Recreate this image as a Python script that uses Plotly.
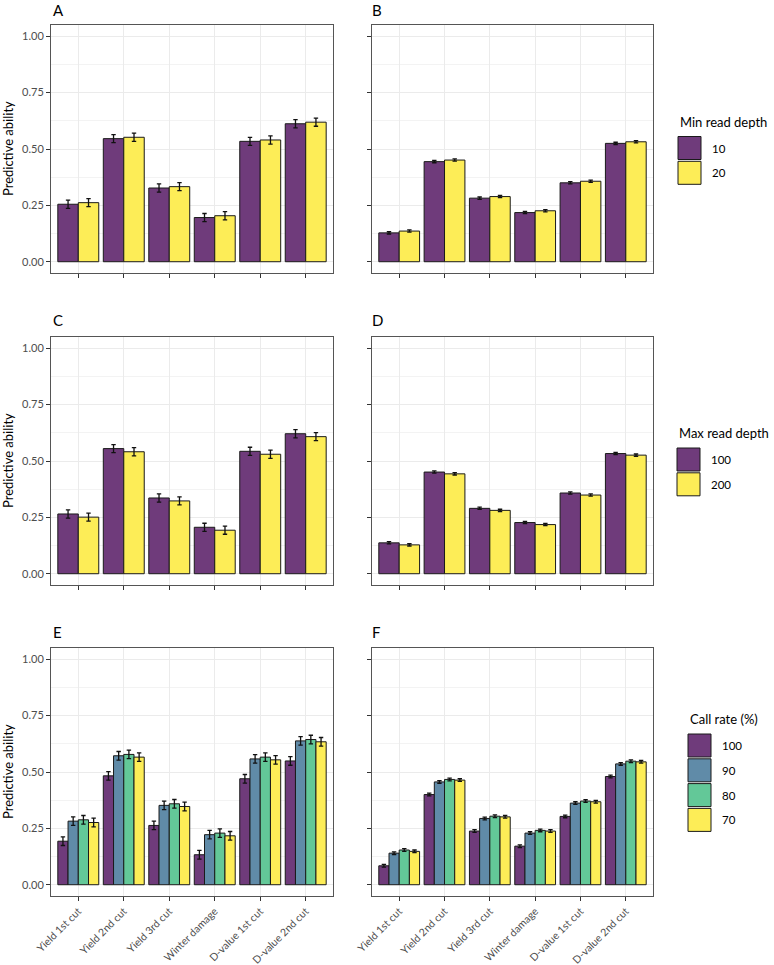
import plotly.graph_objects as go

# ---------------- data ----------------
traits = ["Yield 1st cut", "Yield 2nd cut", "Yield 3rd cut", "Winter damage",
          "D-value 1st cut", "D-value 2nd cut"]

# Panel A / B : Min read depth
min_depth_levels = ["10", "20"]
A_10 = [0.255, 0.546, 0.327, 0.196, 0.534, 0.612]
A_20 = [0.262, 0.552, 0.333, 0.204, 0.540, 0.619]
A_10_err = [0.018, 0.018, 0.018, 0.018, 0.018, 0.018]
A_20_err = [0.018, 0.018, 0.018, 0.018, 0.018, 0.018]
B_10 = [0.128, 0.444, 0.282, 0.218, 0.350, 0.525]
B_20 = [0.136, 0.451, 0.289, 0.226, 0.357, 0.532]
B_10_err = [0.005, 0.005, 0.005, 0.005, 0.005, 0.005]
B_20_err = [0.005, 0.005, 0.005, 0.005, 0.005, 0.005]

# Panel C / D : Max read depth
max_depth_levels = ["100", "200"]
C_100 = [0.265, 0.555, 0.336, 0.206, 0.543, 0.621]
C_200 = [0.251, 0.541, 0.323, 0.193, 0.530, 0.608]
C_100_err = [0.018, 0.018, 0.018, 0.018, 0.018, 0.018]
C_200_err = [0.018, 0.018, 0.018, 0.018, 0.018, 0.018]
D_100 = [0.137, 0.451, 0.290, 0.227, 0.358, 0.533]
D_200 = [0.128, 0.443, 0.281, 0.218, 0.349, 0.526]
D_100_err = [0.005, 0.005, 0.005, 0.005, 0.005, 0.005]
D_200_err = [0.005, 0.005, 0.005, 0.005, 0.005, 0.005]

# Panel E / F : Call rate (%)
call_rate_levels = ["100", "90", "80", "70"]
E_100 = [0.193, 0.483, 0.263, 0.133, 0.470, 0.549]
E_90 = [0.282, 0.572, 0.352, 0.222, 0.558, 0.638]
E_80 = [0.288, 0.578, 0.359, 0.229, 0.566, 0.644]
E_70 = [0.276, 0.566, 0.347, 0.217, 0.554, 0.634]
E_err = [0.019, 0.019, 0.019, 0.019, 0.019, 0.019]
F_100 = [0.084, 0.400, 0.238, 0.171, 0.303, 0.480]
F_90 = [0.140, 0.456, 0.294, 0.229, 0.362, 0.536]
F_80 = [0.154, 0.467, 0.304, 0.241, 0.371, 0.548]
F_70 = [0.148, 0.464, 0.301, 0.238, 0.368, 0.545]
F_err = [0.006, 0.006, 0.006, 0.006, 0.006, 0.006]

y_ticks = [0, 0.25, 0.5, 0.75, 1.0]
y_tick_labels = ["0.00", "0.25", "0.50", "0.75", "1.00"]

# ---------------- styles ----------------
W, H = 774, 965
FONT = "Lato, sans-serif"


def blend(hexc, a=0.77):
    r, g, b = int(hexc[1:3], 16), int(hexc[3:5], 16), int(hexc[5:7], 16)
    r, g, b = [round(c * a + 255 * (1 - a)) for c in (r, g, b)]
    return f"#{r:02X}{g:02X}{b:02X}"


pal2 = [blend("#440154"), blend("#FDE725")]
pal4 = [blend("#440154"), blend("#31688E"), blend("#35B779"), blend("#FDE725")]

# panel boxes in pixels: (left, right, top, bottom)
colx = [(51, 333), (372, 653)]
rowy = [(25, 273), (337, 585), (648, 896)]

fig = go.Figure()

panels = [
    (0, 0, [A_10, A_20], [A_10_err, A_20_err], pal2, min_depth_levels),
    (0, 1, [B_10, B_20], [B_10_err, B_20_err], pal2, min_depth_levels),
    (1, 0, [C_100, C_200], [C_100_err, C_200_err], pal2, max_depth_levels),
    (1, 1, [D_100, D_200], [D_100_err, D_200_err], pal2, max_depth_levels),
    (2, 0, [E_100, E_90, E_80, E_70], [E_err, E_err, E_err, E_err], pal4, call_rate_levels),
    (2, 1, [F_100, F_90, F_80, F_70], [F_err, F_err, F_err, F_err], pal4, call_rate_levels),
]

for i, (r, c, series, errs, pal, levels) in enumerate(panels):
    n = i + 1
    xa = "x" if n == 1 else f"x{n}"
    ya = "y" if n == 1 else f"y{n}"
    for vals, err, col, lev in zip(series, errs, pal, levels):
        fig.add_trace(go.Bar(
            x=traits, y=vals, name=lev, xaxis=xa, yaxis=ya,
            marker=dict(color=col, line=dict(color="#1a1a1a", width=1)),
            error_y=dict(type="data", array=err, color="#111111", thickness=1.3, width=2.2),
            showlegend=False,
        ))
    l, rr = colx[c]
    t, b = rowy[r]
    xkey = "xaxis" if n == 1 else f"xaxis{n}"
    ykey = "yaxis" if n == 1 else f"yaxis{n}"
    fig.layout[xkey] = dict(
        domain=[l / W, rr / W], anchor=ya, type="category", automargin=False,
        range=[-0.6, 5.6], showgrid=True, gridcolor="#EBEBEB", gridwidth=1,
        showline=True, mirror=True, linecolor="#555555", linewidth=1,
        ticks="outside", ticklen=4, tickwidth=1, tickcolor="#333333",
        showticklabels=(r == 2), tickangle=-45,
        tickfont=dict(family=FONT, size=10.5, color="#4D4D4D"),
        zeroline=False,
    )
    fig.layout[ykey] = dict(
        domain=[1 - b / H, 1 - t / H], anchor=xa, automargin=False,
        range=[-0.05, 1.05], tickvals=y_ticks, ticktext=y_tick_labels,
        showgrid=True, gridcolor="#EBEBEB", gridwidth=1,
        minor=dict(tickvals=[0.125, 0.375, 0.625, 0.875], showgrid=True,
                   gridcolor="#F3F3F3", gridwidth=0.6),
        showline=True, mirror=True, linecolor="#555555", linewidth=1,
        ticks="outside", ticklen=4, tickwidth=1, tickcolor="#333333",
        showticklabels=(c == 0),
        tickfont=dict(family=FONT, size=11, color="#4D4D4D"),
        zeroline=False,
    )

annotations = []
shapes = []

# panel letters
letters = ["A", "B", "C", "D", "E", "F"]
letter_pos = [(51, 10), (370, 10), (51, 320), (370, 320), (51, 632), (370, 632)]
for lt, (px, py) in zip(letters, letter_pos):
    annotations.append(dict(text=lt, x=px / W, y=1 - py / H, xref="paper", yref="paper",
                            xanchor="left", yanchor="middle", showarrow=False,
                            font=dict(family=FONT, size=15, color="black")))

# y axis titles
for (t, b) in rowy:
    annotations.append(dict(text="Predictive ability", x=8 / W, y=1 - ((t + b) / 2) / H,
                            xref="paper", yref="paper", xanchor="center", yanchor="middle",
                            textangle=-90, showarrow=False,
                            font=dict(family=FONT, size=13, color="black")))

# legends (drawn as keys)
legends = [
    ("Min read depth", min_depth_levels, pal2, 678, 122, 136.5),
    ("Max read depth", max_depth_levels, pal2, 677, 433, 448),
    ("Call rate (%)", call_rate_levels, pal4, 688, 719, 734),
]
key = 23
step = 24.8
for title, levels, pal, lx, ty, ky in legends:
    annotations.append(dict(text=title, x=lx / W, y=1 - ty / H, xref="paper", yref="paper",
                            xanchor="left", yanchor="middle", showarrow=False,
                            font=dict(family=FONT, size=13, color="black")))
    for j, (lev, col) in enumerate(zip(levels, pal)):
        y0 = ky + j * step
        shapes.append(dict(type="rect", xref="paper", yref="paper",
                           x0=lx / W, x1=(lx + key) / W,
                           y0=1 - (y0 + key) / H, y1=1 - y0 / H,
                           fillcolor=col, line=dict(color="#1a1a1a", width=1)))
        annotations.append(dict(text=lev, x=(lx + key + 9) / W, y=1 - (y0 + key / 2) / H,
                                xref="paper", yref="paper", xanchor="left", yanchor="middle",
                                showarrow=False,
                                font=dict(family=FONT, size=11.5, color="black")))

fig.update_layout(
    width=W, height=H, autosize=False,
    margin=dict(l=0, r=0, t=0, b=0),
    paper_bgcolor="white", plot_bgcolor="white",
    barmode="group", bargap=0.1, bargroupgap=0,
    annotations=annotations, shapes=shapes,
    font=dict(family=FONT),
    showlegend=False,
)

fig.write_html("out.html")
